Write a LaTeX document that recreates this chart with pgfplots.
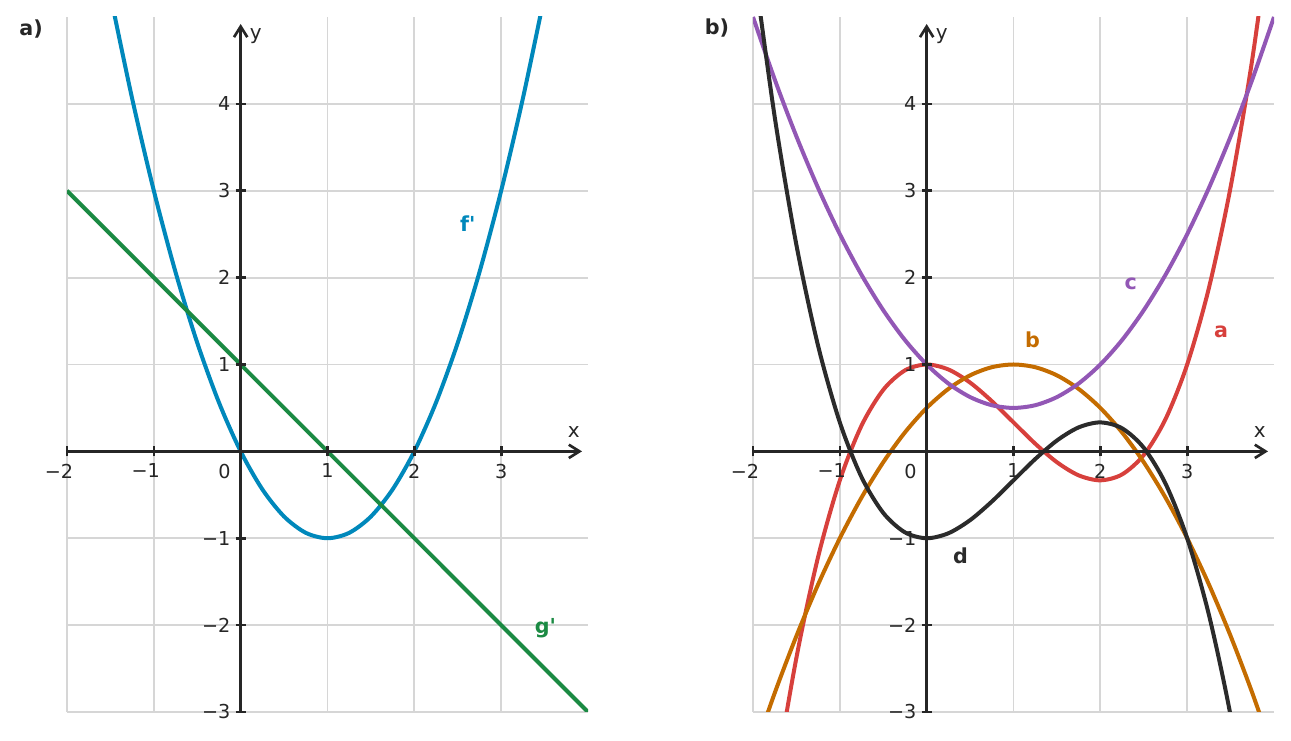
\documentclass[border=0pt]{standalone}
\usepackage{fontspec}
\setmainfont{DejaVu Sans}
\newfontfamily\lf{DejaVu Sans}
\usepackage{pgfplots}
\pgfplotsset{compat=1.18}
\usetikzlibrary{arrows.meta}
\definecolor{axc}{HTML}{262626}
\definecolor{gridc}{HTML}{D6D6D6}
\definecolor{cf}{HTML}{0088BB}
\definecolor{cg}{HTML}{1B8A43}
\definecolor{ca}{HTML}{D7403C}
\definecolor{cb}{HTML}{C46C00}
\definecolor{cc}{HTML}{9257B5}
\definecolor{cd}{HTML}{2B2B2B}
\tikzset{
  lab/.style={font=\lf\fontsize{15.5}{18}\bfseries\selectfont},
  axlab/.style={font=\fontsize{15}{18}\selectfont, text=axc, inner sep=0pt},
}
\pgfplotsset{
  base/.style={
    scale only axis, width=390.75pt, height=521.25pt,
    xmin=-2, xmax=4, ymin=-3, ymax=5,
    xtick={-2,-1,0,1,2,3},
    ytick={-3,-2,-1,1,2,3,4},
  },
  bgax/.style={
    base, axis lines=middle,
    axis line style={draw=none}, tick style={draw=none},
    xticklabels={}, yticklabels={},
    grid=major, grid style={line width=1.4pt, color=gridc},
  },
  myax/.style={
    base, axis on top,
    axis lines=middle,
    axis line style={line width=2pt, color=axc},
    x axis line style={-{Straight Barb[length=8pt,width=10pt,line width=2pt]}, shorten >=4.5pt},
    y axis line style={-{Straight Barb[length=8pt,width=10pt,line width=2pt]}, shorten >=5.25pt},
    hide obscured x ticks=false,
    hide obscured y ticks=false,
    xticklabels={\llap{−}2,\llap{−}1,\makebox[0pt][r]{0\hspace{7.5pt}},1,2,3},
    yticklabels={−3,−2,−1,1,2,3,4},
    major tick length=7.5pt, tick align=center,
    tick style={line width=2pt, color=axc},
    xticklabel style={anchor=north, inner sep=0pt, yshift=-5.5pt, font=\fontsize{14.4}{16}\selectfont, text=axc},
    yticklabel style={anchor=east, inner sep=0pt, xshift=-3.75pt, font=\fontsize{14.4}{16}\selectfont, text=axc},
    every axis plot/.append style={line width=3pt, smooth},
  },
}
\begin{document}
\begin{tikzpicture}
\useasboundingbox (0,0) rectangle (968.25pt,555.75pt);
\node[lab, text=axc] at (23.25pt,534pt) {a)};
\node[lab, text=axc] at (537.75pt,534.75pt) {b)};
\begin{axis}[bgax, at={(50.25pt,21.75pt)}, anchor=south west]
\end{axis}
\begin{axis}[bgax, at={(564.75pt,21.75pt)}, anchor=south west]
\end{axis}
\begin{axis}[myax, at={(50.25pt,21.75pt)}, anchor=south west]
\addplot[cf] coordinates {
(-1.5,5.25) (-1.25,4.0625) (-1,3) (-0.75,2.0625) (-0.5,1.25) (-0.25,0.5625)
(0,0) (0.25,-0.4375) (0.5,-0.75) (0.75,-0.9375) (1,-1) (1.25,-0.9375)
(1.5,-0.75) (1.75,-0.4375) (2,0) (2.25,0.5625) (2.5,1.25) (2.75,2.0625)
(3,3) (3.25,4.0625) (3.5,5.25)};
\addplot[cg, sharp plot] coordinates {(-2,3) (4,-3)};
\node[axlab] at (axis cs:3.835,0.224) {x};
\node[axlab] at (axis cs:0.173,4.78) {y};
\node[lab, text=cf] at (axis cs:2.615,2.62) {f'};
\node[lab, text=cg] at (axis cs:3.51,-2.03) {g'};
\end{axis}
\begin{axis}[myax, at={(564.75pt,21.75pt)}, anchor=south west]
\addplot[ca] coordinates {
(-2,-5.666667) (-1.75,-3.848958) (-1.5,-2.375) (-1.25,-1.213542) (-1,-0.333333)
(-0.75,0.296875) (-0.5,0.708333) (-0.25,0.932292) (0,1) (0.25,0.942708)
(0.5,0.791667) (0.75,0.578125) (1,0.333333) (1.25,0.088542) (1.5,-0.125)
(1.75,-0.276042) (2,-0.333333) (2.25,-0.265625) (2.5,-0.041667) (2.75,0.369792)
(3,1) (3.25,1.880208) (3.5,3.041667) (3.75,4.515625) (4,6.333333)};
\addplot[cb] coordinates {
(-2,-3.5) (-1.75,-2.78125) (-1.5,-2.125) (-1.25,-1.53125) (-1,-1) (-0.75,-0.53125)
(-0.5,-0.125) (-0.25,0.21875) (0,0.5) (0.25,0.71875) (0.5,0.875) (0.75,0.96875)
(1,1) (1.25,0.96875) (1.5,0.875) (1.75,0.71875) (2,0.5) (2.25,0.21875)
(2.5,-0.125) (2.75,-0.53125) (3,-1) (3.25,-1.53125) (3.5,-2.125) (3.75,-2.78125) (4,-3.5)};
\addplot[cc] coordinates {
(-2,5) (-1.75,4.28125) (-1.5,3.625) (-1.25,3.03125) (-1,2.5) (-0.75,2.03125)
(-0.5,1.625) (-0.25,1.28125) (0,1) (0.25,0.78125) (0.5,0.625) (0.75,0.53125)
(1,0.5) (1.25,0.53125) (1.5,0.625) (1.75,0.78125) (2,1) (2.25,1.28125)
(2.5,1.625) (2.75,2.03125) (3,2.5) (3.25,3.03125) (3.5,3.625) (3.75,4.28125) (4,5)};
\addplot[cd] coordinates {
(-2,5.666667) (-1.75,3.848958) (-1.5,2.375) (-1.25,1.213542) (-1,0.333333)
(-0.75,-0.296875) (-0.5,-0.708333) (-0.25,-0.932292) (0,-1) (0.25,-0.942708)
(0.5,-0.791667) (0.75,-0.578125) (1,-0.333333) (1.25,-0.088542) (1.5,0.125)
(1.75,0.276042) (2,0.333333) (2.25,0.265625) (2.5,0.041667) (2.75,-0.369792)
(3,-1) (3.25,-1.880208) (3.5,-3.041667) (3.75,-4.515625) (4,-6.333333)};
\node[axlab] at (axis cs:3.835,0.224) {x};
\node[axlab] at (axis cs:0.173,4.78) {y};
\node[lab, text=ca] at (axis cs:3.39,1.37) {a};
\node[lab, text=cb] at (axis cs:1.22,1.28) {b};
\node[lab, text=cc] at (axis cs:2.35,1.93) {c};
\node[lab, text=cd] at (axis cs:0.39,-1.2) {d};
\end{axis}
\end{tikzpicture}
\end{document}
